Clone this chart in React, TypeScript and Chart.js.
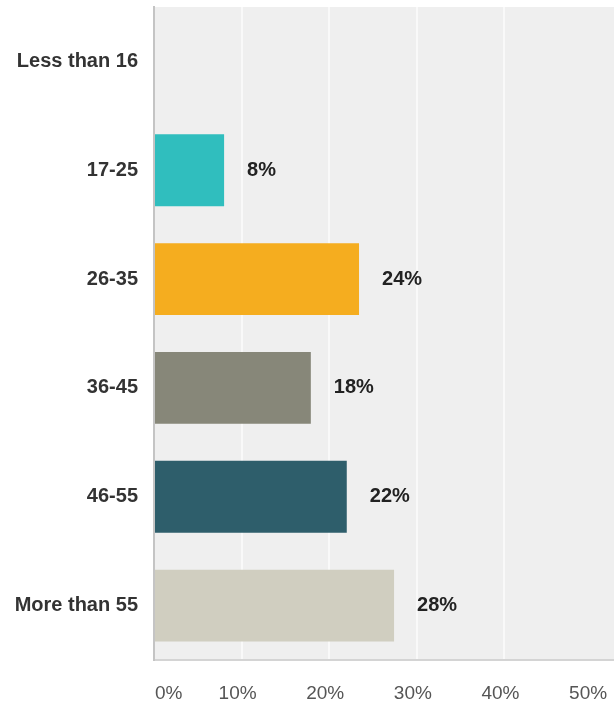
import React, { useEffect, useRef } from "react";
import { Chart, registerables } from "chart.js";

Chart.register(...registerables);

const categories = ["Less than 16", "17-25", "26-35", "36-45", "46-55", "More than 55"];
const values = [0, 8, 23.4, 17.9, 22, 27.4];
const valueLabels = ["", "8%", "24%", "18%", "22%", "28%"];
const barColors = ["#30BEBE", "#30BEBE", "#F5AD1F", "#878779", "#2E5E6B", "#D0CEC0"];
const xTicks = [0, 10, 20, 30, 40, 50];

export default function App() {
  const ref = useRef<HTMLCanvasElement | null>(null);

  useEffect(() => {
    document.body.style.margin = "0";
    const canvas = ref.current;
    if (!canvas) return;

    const bgPlugin = {
      id: "bg",
      beforeDraw(chart: any) {
        const { ctx, chartArea } = chart;
        ctx.save();
        ctx.fillStyle = "#EFEFEF";
        ctx.fillRect(chartArea.left, chartArea.top, chartArea.right - chartArea.left, chartArea.bottom - chartArea.top);
        ctx.restore();
      },
    };

    const labelPlugin = {
      id: "labels",
      afterDatasetsDraw(chart: any) {
        const { ctx } = chart;
        const meta = chart.getDatasetMeta(0);
        ctx.save();
        ctx.font = "bold 20px Arial, 'Liberation Sans', sans-serif";
        ctx.fillStyle = "#222222";
        ctx.textAlign = "left";
        ctx.textBaseline = "middle";
        meta.data.forEach((el: any, i: number) => {
          const t = valueLabels[i];
          if (!t) return;
          ctx.fillText(t, el.x + 23, el.y);
        });
        ctx.restore();
      },
      afterDraw(chart: any) {
        const { ctx, chartArea } = chart;
        const xs = chart.scales.x;
        ctx.save();
        ctx.font = "19px Arial, 'Liberation Sans', sans-serif";
        ctx.fillStyle = "#555555";
        ctx.textBaseline = "middle";
        xTicks.forEach((v) => {
          const px = xs.getPixelForValue(v);
          if (v === 0) {
            ctx.textAlign = "left";
            ctx.fillText(v + "%", chartArea.left + 1, 694);
          } else {
            ctx.textAlign = "center";
            ctx.fillText(v + "%", px - 4, 694);
          }
        });
        ctx.restore();
      },
    };

    const chart = new Chart(canvas, {
      type: "bar",
      data: {
        labels: categories,
        datasets: [
          {
            data: values,
            backgroundColor: barColors,
            borderWidth: 0,
            barPercentage: 0.66,
            categoryPercentage: 1,
          },
        ],
      },
      options: {
        indexAxis: "y",
        animation: false,
        responsive: false,
        maintainAspectRatio: false,
        layout: { padding: { top: 7, left: 0, right: 0, bottom: 0 } },
        plugins: {
          legend: { display: false },
          tooltip: { enabled: false },
        },
        scales: {
          x: {
            min: 0,
            max: 52.5,
            ticks: { stepSize: 10, display: false },
            afterBuildTicks: (scale: any) => {
              scale.ticks = scale.ticks.filter((t: any) => t.value % 10 === 0);
            },
            afterFit: (scale: any) => {
              scale.height = 46;
              scale.paddingLeft = 0;
              scale.paddingRight = 0;
            },
            grid: { color: "#F9F9F9", lineWidth: 2, drawTicks: false },
            border: { display: true, color: "#D4D4D4", width: 2 },
          },
          y: {
            afterFit: (scale: any) => {
              scale.width = 154;
              scale.paddingTop = 0;
              scale.paddingBottom = 0;
            },
            grid: { display: false, drawTicks: false },
            border: { display: true, color: "#C4C4C4", width: 2 },
            ticks: {
              padding: 16,
              color: "#333333",
              font: { family: "Arial, 'Liberation Sans', sans-serif", size: 20, weight: "bold" },
            },
          },
        },
      },
      plugins: [bgPlugin, labelPlugin],
    });

    return () => chart.destroy();
  }, []);

  return <canvas ref={ref} width={614} height={706} style={{ display: "block" }} />;
}
